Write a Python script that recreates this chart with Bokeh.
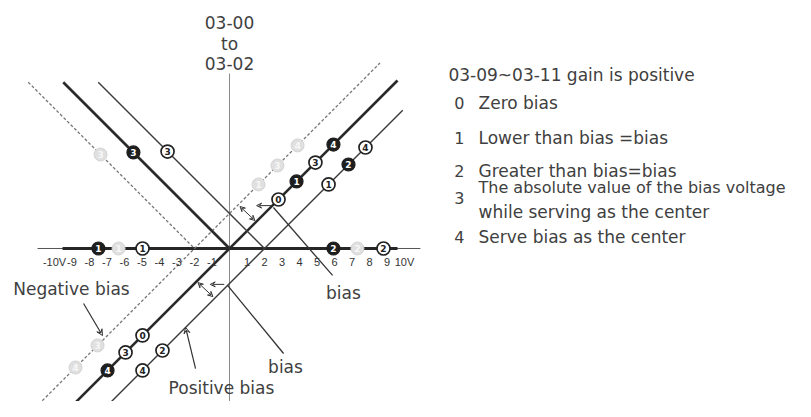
import numpy as np
from bokeh.plotting import figure
from bokeh.models import Range1d, Arrow, VeeHead, ColumnDataSource
from bokeh.core.properties import value
from bokeh.embed import file_html
from bokeh.resources import INLINE

# ---------------- data ----------------
bias_levels = [-2, 0, 2]                 # negative, zero, positive bias
rise_start = [-10.9, -9.5, -7.5]         # rising branch  v = u - bias
rise_end = [8.6, 9.6, 9.9]
fall_start = [-11.5, -9.5, -7.5]         # falling branch v = bias - u
fall_end = [-2, 0, 2]

tick_values = [-10, -9, -8, -7, -6, -5, -4, -3, -2, -1, 1, 2, 3, 4, 5, 6, 7, 8, 9, 10]
tick_labels = ["-10V", "-9", "-8", "-7", "-6", "-5", "-4", "-3", "-2", "-1",
               "1", "2", "3", "4", "5", "6", "7", "8", "9", "10V"]

# numbered markers: which line, its bias, position u, label, tone
mark_line = ["axis"] * 6 + ["rise"] * 7 + ["rise"] * 5 + ["rise"] * 5 + ["fall"] * 3
mark_bias = [0] * 6 + [0] * 7 + [2] * 5 + [-2] * 5 + [-2, 0, 2]
mark_u = [-7.49, -6.34, -4.97, 5.94, 7.31, 8.8,
          5.94, 4.91, 3.83, 2.8, -4.97, -5.94, -6.97,
          7.77, 6.8, 5.66, -3.83, -4.97,
          -8.8, -7.54, 1.66, 2.74, 3.89,
          -7.37, -5.49, -3.54]
mark_label = ["1", "1", "1", "2", "2", "2",
              "4", "3", "1", "0", "0", "3", "4",
              "4", "2", "1", "2", "4",
              "4", "3", "1", "3", "4",
              "3", "3", "3"]
mark_tone = ["dark", "light", "outline", "dark", "light", "outline",
             "dark", "outline", "dark", "outline", "outline", "outline", "dark",
             "outline", "dark", "outline", "outline", "outline",
             "light", "light", "light", "light", "light",
             "light", "dark", "outline"]

title_lines = ["03-00", "to", "03-02"]
legend_title = "03-09~03-11 gain is positive"
legend_codes = ["0", "1", "2", "3", "4"]
legend_texts = ["Zero bias", "Lower than bias =bias", "Greater than bias=bias",
                "The absolute value of the bias voltage", "Serve bias as the center"]
legend_extra = "while serving as the center"

# ---------------- figure ----------------
p = figure(width=795, height=401, x_range=Range1d(-13.086, 32.343),
           y_range=Range1d(-8.743, 14.171), output_backend="svg",
           toolbar_location=None, x_axis_type=None, y_axis_type=None,
           min_border=0)
p.outline_line_color = None
p.background_fill_color = "white"
p.border_fill_color = "white"

FONT = value("DejaVu Sans")
TXT = "#404040"

# axes
p.line([0, 0], [10.0, -8.743], line_color="#8a8a8a", line_width=1)
p.line([-10.97, 10.91], [0, 0], line_color="#555555", line_width=1)
p.line([-9.54, 9.6], [0, 0], line_color="#262626", line_width=3)

# bias lines
styles = {
    -2: dict(line_color="#757575", line_width=1.3, line_dash="3 2"),
    0: dict(line_color="#2a2a2a", line_width=2.6),
    2: dict(line_color="#3a3a3a", line_width=1.4),
}
for b, rs, re_, fs, fe in zip(bias_levels, rise_start, rise_end, fall_start, fall_end):
    ur = np.array([rs, re_])
    p.line(ur, ur - b, **styles[b])
    uf = np.array([fs, fe])
    p.line(uf, b - uf, **styles[b])

# tick labels
p.text(tick_values, [-0.8] * len(tick_values), text=tick_labels,
       text_font=value("Liberation Sans"), text_font_size="11px",
       text_align="center", text_baseline="middle", text_color="#333333")

# title of vertical axis
p.text([0, 0, 0], [12.91, 11.71, 10.57], text=title_lines, text_font=FONT,
       text_font_size="17px", text_align="center", text_baseline="middle",
       text_color=TXT)

# pointers and bias labels
def arrow(x0, y0, x1, y1, both=False, size=6, lw=1.2):
    head = VeeHead(size=size, line_color="#333333", line_width=1, fill_color=None)
    kw = dict(end=head, x_start=x0, y_start=y0, x_end=x1, y_end=y1,
              line_color="#333333", line_width=lw)
    if both:
        kw["start"] = VeeHead(size=size, line_color="#333333", line_width=1, fill_color=None)
    p.add_layout(Arrow(**kw))

arrow(-8.34, -3.14, -7.26, -4.97)          # negative bias pointer
arrow(-1.94, -6.86, -2.51, -4.51)          # positive bias pointer
p.line([2.51, 5.89], [2.34, -1.54], line_color="#333333", line_width=1.3)
p.line([-0.11, 3.09], [-2.11, -6.0], line_color="#333333", line_width=1.3)
arrow(0.6, 2.4, 1.45, 1.6, both=True, size=5, lw=1)
arrow(2.4, 2.45, 1.55, 2.45, size=5, lw=1)
arrow(-1.8, -1.95, -0.95, -2.75, both=True, size=5, lw=1)
arrow(-0.3, -2.05, -1.1, -2.05, size=5, lw=1)

p.text([-9.03, 6.51, 3.2, -0.46], [-2.34, -2.57, -6.8, -8.0],
       text=["Negative bias", "bias", "bias", "Positive bias"], text_font=FONT,
       text_font_size="17px", text_align="center", text_baseline="middle",
       text_color=TXT)

# markers
mu = np.array(mark_u)
mb = np.array(mark_bias)
mv = np.where(np.array(mark_line) == "axis", 0.0,
              np.where(np.array(mark_line) == "rise", mu - mb, mb - mu))
tone_style = {
    "dark": dict(fill_color="#1e1e1e", line_color="#1e1e1e", line_width=1.2, tc="white"),
    "outline": dict(fill_color="white", line_color="#222222", line_width=1.7, tc="#222222"),
    "light": dict(fill_color="#e0e0e0", line_color="#d4d4d4", line_width=1.0, tc="#f7f7f7"),
}
for tone, st in tone_style.items():
    idx = [i for i, t in enumerate(mark_tone) if t == tone]
    src = ColumnDataSource(dict(x=mu[idx], y=mv[idx], t=[mark_label[i] for i in idx]))
    p.scatter("x", "y", source=src, size=13, marker="circle",
              fill_color=st["fill_color"], line_color=st["line_color"],
              line_width=st["line_width"])
    p.text("x", "y", text="t", source=src, text_font=FONT, text_font_size="9px",
           text_font_style="bold", text_align="center", text_baseline="middle",
           text_color=st["tc"])

# legend on the right
p.text([12.51], [9.94], text=[legend_title], text_font=FONT, text_font_size="17px",
       text_align="left", text_baseline="middle", text_color=TXT)
code_y = [8.29, 6.34, 4.4, 2.86, 0.63]
text_y = [8.29, 6.34, 4.4, 3.49, 0.63]
text_size = ["17px", "17px", "17px", "16px", "17px"]
p.text([13.14] * 5, code_y, text=legend_codes, text_font=FONT, text_font_size="16px",
       text_align="center", text_baseline="middle", text_color=TXT)
src_leg = ColumnDataSource(dict(x=[14.23] * 5, y=text_y, t=legend_texts, s=text_size))
p.text("x", "y", text="t", source=src_leg, text_font=FONT, text_font_size="s",
       text_align="left", text_baseline="middle", text_color=TXT)
p.text([14.23], [2.06], text=[legend_extra], text_font=FONT, text_font_size="17px",
       text_align="left", text_baseline="middle", text_color=TXT)

open("out.html", "w").write(file_html(p, INLINE))
